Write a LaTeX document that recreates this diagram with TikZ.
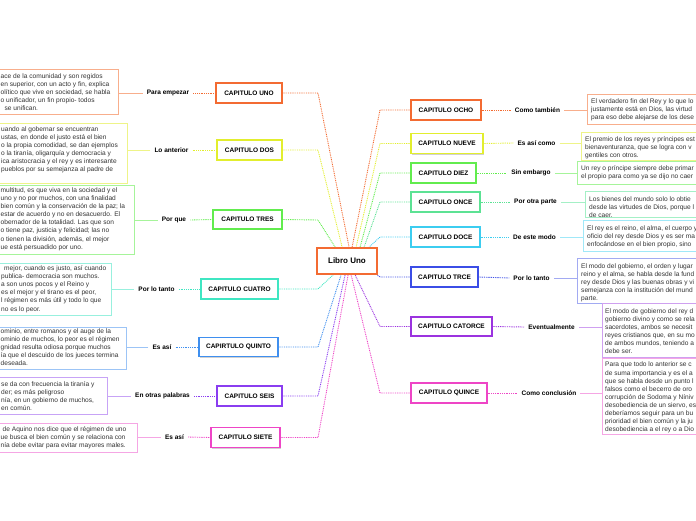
\documentclass[tikz,border=0pt]{standalone}
\usepackage{fontspec}
\setmainfont{Liberation Sans}
\usetikzlibrary{shadows,backgrounds}
\definecolor{cor}{HTML}{F36B32}\definecolor{corl}{HTML}{F8AE8C}
\definecolor{cye}{HTML}{E2EE2E}\definecolor{cyel}{HTML}{EEF488}
\definecolor{cgr}{HTML}{62EC4E}\definecolor{cgrl}{HTML}{A6F49A}
\definecolor{ctq}{HTML}{3FE6C2}\definecolor{ctql}{HTML}{98F0DE}
\definecolor{cbl}{HTML}{3F8FEF}\definecolor{cbll}{HTML}{9CC4F6}
\definecolor{cpu}{HTML}{8A3DF0}\definecolor{cpul}{HTML}{C7A3F6}
\definecolor{cpk}{HTML}{EE45C6}\definecolor{cpkl}{HTML}{F5A6E4}
\definecolor{cmt}{HTML}{5CE294}\definecolor{cmtl}{HTML}{A4F0C6}
\definecolor{ccy}{HTML}{3CCDF0}\definecolor{ccyl}{HTML}{A0E8F8}
\definecolor{cin}{HTML}{3B4DE6}\definecolor{cinl}{HTML}{A2AAF2}
\definecolor{cvi}{HTML}{9B33DF}\definecolor{cvil}{HTML}{CFA0F0}
\begin{document}
\begin{tikzpicture}[x=1pt,y=-1pt,
  chap/.style={draw=#1, line width=1.3pt, fill=white, text=black,
    font=\fontsize{6.5}{7}\selectfont\bfseries, inner sep=0pt, minimum height=20pt,
    drop shadow={shadow xshift=1pt,shadow yshift=-1.2pt,opacity=0.18,fill=black}},
  rootbox/.style={draw=cor, line width=1.8pt, fill=white, font=\fontsize{8}{9}\selectfont\bfseries,
    inner sep=0pt, minimum width=60pt, minimum height=26pt,
    drop shadow={shadow xshift=1pt,shadow yshift=-1.2pt,opacity=0.18,fill=black}},
  lab/.style={font=\fontsize{6.5}{7}\selectfont\bfseries, inner xsep=4pt, inner ysep=1pt},
  tbox/.style={draw=#1, line width=0.8pt, fill=white, inner sep=0pt},
  btxt/.style={font=\fontsize{6.6}{8.1}\selectfont, align=left, inner sep=0pt, anchor=north west, text=black!80},
  lk/.style={draw=#1, line width=0.7pt},
  dl/.style={draw=#1, line width=0.9pt, dash pattern=on 0.9pt off 0.9pt}]
\useasboundingbox (0,0) rectangle (696,520);
\clip (0,0) rectangle (696,520);

% central node
\node[rootbox] (root) at (347,261) {Libro Uno};

% ---------- chapter boxes ----------
\node[chap=cor, minimum width=66pt] (c1) at (249,93) {CAPITULO UNO};
\node[chap=cye, minimum width=65pt] (c2) at (249.5,150) {CAPITULO DOS};
\node[chap=cgr, minimum width=69pt, minimum height=19pt] (c3) at (247.5,219.5) {CAPITULO TRES};
\node[chap=ctq, minimum width=77pt] (c4) at (239.5,289) {CAPITULO CUATRO};
\node[chap=cbl, minimum width=79pt, minimum height=19pt] (c5) at (238.5,347) {CAPIRTULO QUINTO};
\node[chap=cpu, minimum width=65pt] (c6) at (249.5,396) {CAPITULO SEIS};
\node[chap=cpk, minimum width=69pt] (c7) at (245.5,437.5) {CAPITULO SIETE};
\node[chap=cor, minimum width=70pt] (c8) at (446,110) {CAPITULO OCHO};
\node[chap=cye, minimum width=72pt] (c9) at (447,143.5) {CAPITULO NUEVE};
\node[chap=cgr, minimum width=65pt] (c10) at (443.5,173) {CAPITULO DIEZ};
\node[chap=cmt, minimum width=69pt] (c11) at (445.5,202) {CAPITULO ONCE};
\node[chap=ccy, minimum width=69pt] (c12) at (445.5,237) {CAPITULO DOCE};
\node[chap=cin, minimum width=67pt] (c13) at (444.5,277) {CAPITULO TRCE};
\node[chap=cvi, minimum width=81pt, minimum height=19pt] (c14) at (451.5,326.5) {CAPITULO CATORCE};
\node[chap=cpk, minimum width=76pt] (c15) at (449,393) {CAPITULO QUINCE};

% ---------- labels ----------
\node[lab] (l1) at (168,93) {Para empezar};
\node[lab] (l2) at (171.5,150) {Lo anterior};
\node[lab] (l3) at (174,220) {Por que};
\node[lab] (l4) at (156.5,289) {Por lo tanto};
\node[lab] (l5) at (162,347) {Es así};
\node[lab] (l6) at (162.5,396) {En otras palabras};
\node[lab] (l7) at (174.5,437) {Es así};
\node[lab] (l8) at (537.5,110) {Como también};
\node[lab] (l9) at (536.5,143) {Es así como};
\node[lab] (l10) at (531,173) {Sin embargo};
\node[lab] (l11) at (535.5,202) {Por otra parte};
\node[lab] (l12) at (534.5,237) {De este modo};
\node[lab] (l13) at (531.5,278) {Por lo tanto};
\node[lab] (l14) at (551.5,327) {Eventualmente};
\node[lab] (l15) at (549,393) {Como conclusión};

% ---------- text boxes ----------
\node[tbox=corl, minimum width=138pt, minimum height=45pt] (t1) at (49,91.5) {};
\node[tbox=cyel, minimum width=147pt, minimum height=60pt] (t2) at (53.5,153) {};
\node[tbox=cgrl, minimum width=154pt, minimum height=69pt] (t3) at (57,219.5) {};
\node[tbox=ctql, minimum width=131pt, minimum height=52pt] (t4) at (45.5,289) {};
\node[tbox=cbll, minimum width=146pt, minimum height=42pt] (t5) at (53,348) {};
\node[tbox=cpul, minimum width=127pt, minimum height=37pt] (t6) at (43.5,395.5) {};
\node[tbox=cpkl, minimum width=157pt, minimum height=29pt] (t7) at (58.5,437.5) {};
\node[tbox=corl, minimum width=133pt, minimum height=30pt] (t8) at (653.5,109) {};
\node[tbox=cyel, minimum width=139pt, minimum height=28pt] (t9) at (650.5,146) {};
\node[tbox=cgrl, minimum width=143pt, minimum height=23pt] (t10) at (648.5,172.5) {};
\node[tbox=cmtl, minimum width=135pt, minimum height=26pt] (t11) at (652.5,204) {};
\node[tbox=ccyl, minimum width=137pt, minimum height=31pt] (t12) at (651.5,235.5) {};
\node[tbox=cinl, minimum width=143pt, minimum height=45pt] (t13) at (648.5,280.5) {};
\node[tbox=cvil, minimum width=118pt, minimum height=54pt] (t14) at (661,330) {};
\node[tbox=cpkl, minimum width=118pt, minimum height=76pt] (t15) at (661,396) {};

% ---------- texts ----------
\node[btxt] (x1) at (0.5,73.5) {ace de la comunidad y son regidos\\en superior, con un acto y fin, explica\\olítico que vive en sociedad, se habla\\o unificador, un fin propio- todos\\\hspace*{4pt}se unifican.};
\node[btxt] (x2) at (1,126.5) {uando al gobernar se encuentran\\ustas, en donde el justo está el bien\\o la propia comodidad, se dan ejemplos\\o la tiranía, oligarquía y democracia y\\ica aristocracia y el rey y es interesante\\pueblos por su semejanza al padre de};
\node[btxt] (x3) at (0.5,187.5) {multitud, es que viva en la sociedad y el\\uno y no por muchos, con una finalidad\\bien común y la conservación de la paz; la\\estar de acuerdo y no en desacuerdo. El\\obernador de la totalidad. Las que son\\o tiene paz, justicia y felicidad; las no\\o tienen la división, además, el mejor\\ue está persuadido por uno.};
\node[btxt] (x4) at (1,265.5) {\hspace*{3pt}mejor, cuando es justo, así cuando\\publica- democracia son muchos.\\a son unos pocos y el Reino y\\es el mejor y el tirano es el peor,\\l régimen es más útil y todo lo que\\no es lo peor.};
\node[btxt] (x5) at (0.5,328.5) {ominio, entre romanos y el auge de la\\ominio de muchos, lo peor es el régimen\\gnidad resulta odiosa porque muchos\\ía que el descuido de los jueces termina\\deseada.};
\node[btxt] (x6) at (1,381.5) {se da con frecuencia la tiranía y\\der; es más peligroso\\nía, en un gobierno de muchos,\\en común.};
\node[btxt] (x7) at (0.5,426.5) {\hspace*{2pt}de Aquino nos dice que el régimen de uno\\ue busca el bien común y se relaciona con\\nía debe evitar para evitar mayores males.};
\node[btxt] (x8) at (591,98.5) {El verdadero fin del Rey y lo que lo\\justamente está en Dios, las virtud\\para eso debe alejarse de los dese};
\node[btxt] (x9) at (585,136.5) {El premio de los reyes y príncipes est\\bienaventuranza, que se logra con v\\gentiles con otros.};
\node[btxt] (x10) at (581,165.5) {Un rey o príncipe siempre debe primar\\el propio para como ya se dijo no caer};
\node[btxt] (x11) at (589,196.5) {Los bienes del mundo solo lo obtie\\desde las virtudes de Dios, porque l\\de caer.};
\node[btxt] (x12) at (587,225.5) {El rey es el reino, el alma, el cuerpo y\\oficio del rey desde Dios y es ser ma\\enfocándose en el bien propio, sino};
\node[btxt] (x13) at (581,263.5) {El modo del gobierno, el orden y lugar\\reino y el alma, se habla desde la fund\\rey desde Dios y las buenas obras y vi\\semejanza con la institución del mund\\parte.};
\node[btxt] (x14) at (605,308.5) {El modo de gobierno del rey d\\gobierno divino y como se rela\\sacerdotes, ambos se necesit\\reyes cristianos que, en su mo\\de ambos mundos, teniendo a\\debe ser.};
\node[btxt] (x15) at (605,362) {Para que todo lo anterior se c\\de suma importancia y es el a\\que se habla desde un punto l\\falsos como el becerro de oro\\corrupción de Sodoma y Níniv\\desobediencia de un siervo, es\\deberíamos seguir para un bu\\prioridad el bien común y la ju\\desobediencia a el rey o a Dio};

% ---------- elbows ----------
\foreach \i/\yy in {1/93,2/150,3/220,4/289,5/347,6/396,7/437.5}
  \coordinate (e\i) at (318,\yy);
\foreach \i/\yy in {8/110,9/143.5,10/173,11/202,12/237,13/277,14/326.5,15/393}
  \coordinate (e\i) at (380,\yy);

\begin{scope}[on background layer]
% ---------- connectors: text box -- label -- chapter ----------
\foreach \i/\c/\cl in {1/cor/corl,2/cye/cyel,3/cgr/cgrl,4/ctq/ctql,5/cbl/cbll,6/cpu/cpul,7/cpk/cpkl}{
  \draw[lk=\cl] (l\i.west) -- (l\i.west -| t\i.east);
  \draw[dl=\c] (l\i.east) -- (c\i.west);
}
\foreach \i/\c/\cl in {8/cor/corl,9/cye/cyel,10/cgr/cgrl,11/cmt/cmtl,12/ccy/ccyl,13/cin/cinl,14/cvi/cvil,15/cpk/cpkl}{
  \draw[lk=\cl] (l\i.east) -- (l\i.east -| t\i.west);
  \draw[dl=\c] (c\i.east) -- (l\i.west);
}
% ---------- connectors: chapter -- centre ----------
\draw[dl=cor] (c1.east) -- (e1) -- ([xshift=33pt]root.north west);
\draw[dl=cye] (c2.east) -- (e2) -- ([xshift=26pt]root.north west);
\draw[dl=cgr] (c3.east) -- (e3) -- ([xshift=19pt]root.north west);
\draw[dl=ctq] (c4.east) -- (e4) -- ([xshift=17pt]root.south west);
\draw[dl=cbl] (c5.east) -- (e5) -- ([xshift=25pt]root.south west);
\draw[dl=cpu] (c6.east) -- (e6) -- ([xshift=29pt]root.south west);
\draw[dl=cpk] (c7.east) -- (e7) -- ([xshift=32pt]root.south west);
\draw[dl=cor] (c8.west) -- (e8) -- ([xshift=36pt]root.north west);
\draw[dl=cye] (c9.west) -- (e9) -- ([xshift=40pt]root.north west);
\draw[dl=cgr] (c10.west) -- (e10) -- ([xshift=44pt]root.north west);
\draw[dl=cmt] (c11.west) -- (e11) -- ([xshift=48pt]root.north west);
\draw[dl=ccy] (c12.west) -- (e12) -- ([xshift=53pt]root.north west);
\draw[dl=cin] (c13.west) -- (e13) -- ([xshift=-1pt]root.south east);
\draw[dl=cvi] (c14.west) -- (e14) -- ([xshift=39pt]root.south west);
\draw[dl=cpk] (c15.west) -- (e15) -- ([xshift=35pt]root.south west);
\end{scope}
\end{tikzpicture}
\end{document}
